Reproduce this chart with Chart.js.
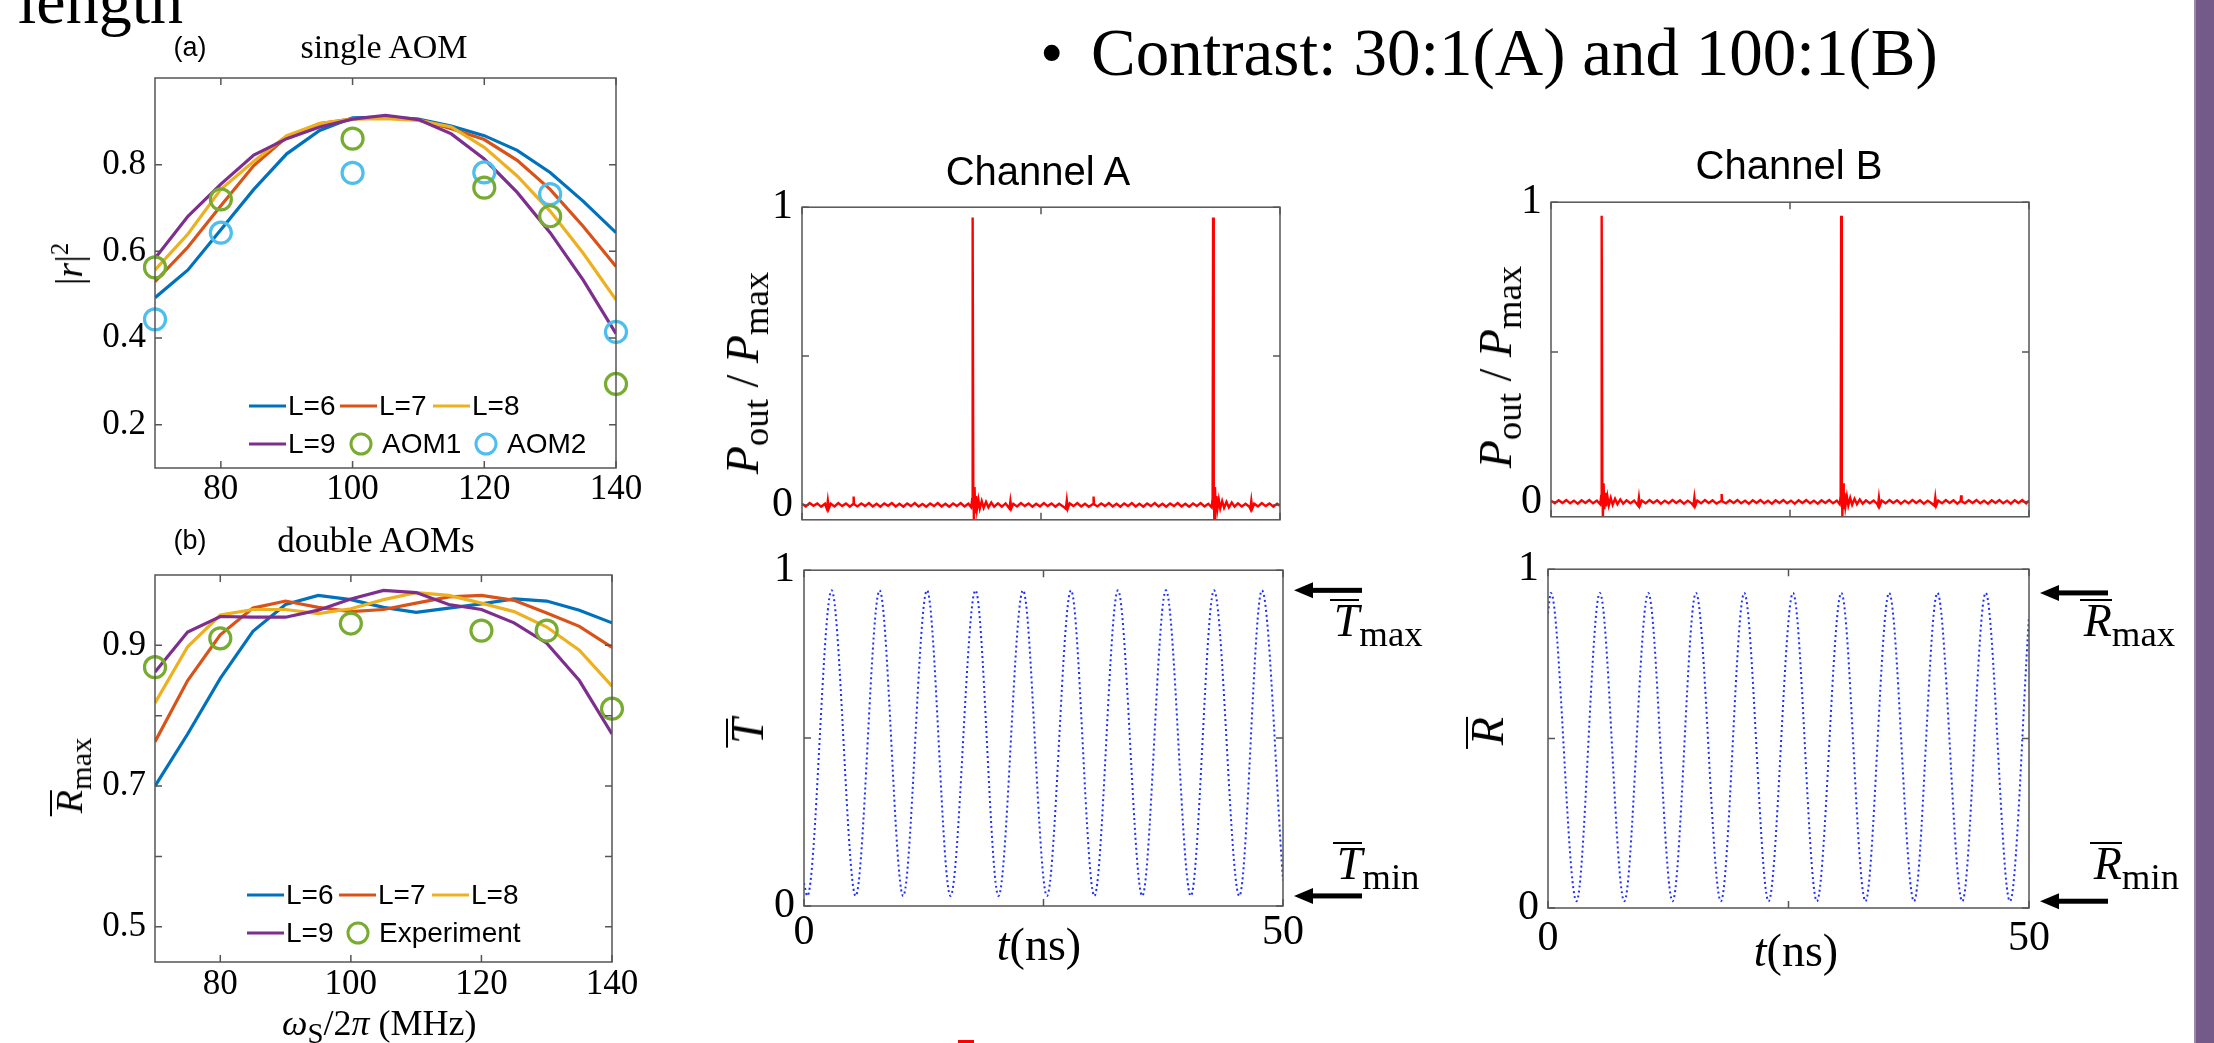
<!DOCTYPE html>
<html>
<head>
<meta charset="utf-8">
<script src="https://cdn.jsdelivr.net/npm/chart.js@4.4.1/dist/chart.umd.min.js"></script>
<style>
  body { margin: 0; background: #fff; }
  #page { position: relative; width: 2214px; height: 1043px; overflow: hidden; background: #fff;
          font-family: 'Liberation Serif', serif; color: #000; }
  canvas { position: absolute; }
  .t { position: absolute; white-space: nowrap; line-height: 1; }
  .c { transform: translate(-50%, -50%); }
  .r { transform: translate(-50%, -50%) rotate(-90deg); }
  .sans { font-family: 'Liberation Sans', Arial, sans-serif; }
  .ov { display: inline-block; line-height: 0.7; border-top: 2px solid #000; padding-top: 4px; padding-left: 0.08em; }
  sub { font-size: 0.8em; vertical-align: -0.28em; line-height: 0; }
  sup { font-size: 0.65em; vertical-align: 0.55em; line-height: 0; }
</style>
</head>
<body>
<div id="page">
  <canvas id="single"></canvas>
  <canvas id="double"></canvas>
  <canvas id="pulseAChart"></canvas>
  <canvas id="transAChart"></canvas>
  <canvas id="pulseBChart"></canvas>
  <canvas id="reflBChart"></canvas>

  <!-- slide text -->
  <div class="t" style="left:18px; top:-32px; font-size:66px">length</div>
  <div class="t" style="left:1040px; top:19px; font-size:67px">•</div>
  <div class="t" style="left:1091px; top:19px; font-size:67px">Contrast: 30:1(A) and 100:1(B)</div>

  <!-- left panels -->
  <div class="t c sans" style="left:190px; top:47px; font-size:27px">(a)</div>
  <div class="t c" style="left:384px; top:47px; font-size:34px">single AOM</div>
  <div class="t r" style="left:69px; top:264px; font-size:38px">|<i>r</i>|<sup>2</sup></div>
  <div class="t c sans" style="left:190px; top:540px; font-size:27px">(b)</div>
  <div class="t c" style="left:376px; top:540px; font-size:35px">double AOMs</div>
  <div class="t r" style="left:69px; top:777px; font-size:38px"><i class="ov">R</i><sub>max</sub></div>
  <div class="t" style="left:282px; top:1005px; font-size:36px"><i>ω</i><sub>S</sub>/2<i>π</i> (MHz)</div>

  <!-- channel panels -->
  <div class="t c sans" style="left:1038px; top:171px; font-size:40px">Channel A</div>
  <div class="t c sans" style="left:1789px; top:165px; font-size:40px">Channel B</div>
  <div class="t r" style="left:743px; top:373px; font-size:46px"><i>P</i><sub>out</sub> / <i>P</i><sub>max</sub></div>
  <div class="t r" style="left:1496px; top:367px; font-size:46px"><i>P</i><sub>out</sub> / <i>P</i><sub>max</sub></div>
  <div class="t r" style="left:748px; top:733px; font-size:46px"><i class="ov">T</i></div>
  <div class="t r" style="left:1488px; top:733px; font-size:46px"><i class="ov">R</i></div>
  <div class="t c" style="left:1039px; top:945px; font-size:46px"><i>t</i>(ns)</div>
  <div class="t c" style="left:1796px; top:951px; font-size:46px"><i>t</i>(ns)</div>
  <div class="t" style="left:1330px; top:598px; font-size:46px"><i class="ov">T</i><sub>max</sub></div>
  <div class="t" style="left:1333px; top:841px; font-size:46px"><i class="ov">T</i><sub>min</sub></div>
  <div class="t" style="left:2080px; top:598px; font-size:46px"><i class="ov">R</i><sub>max</sub></div>
  <div class="t" style="left:2090px; top:841px; font-size:46px"><i class="ov">R</i><sub>min</sub></div>

  <div style="position:absolute; left:958px; top:1040px; width:16px; height:3px; background:#f00"></div>
  <div style="position:absolute; left:2194px; top:0; width:20px; height:1043px; background:#735a88; box-sizing:border-box; border-left:2px solid #9b86ad"></div>
</div>

<script>
// ---- data ----
const freq = [70, 75, 80, 85, 90, 95, 100, 105, 110, 115, 120, 125, 130, 135, 140];
const single_L6 = [0.493, 0.557, 0.65, 0.743, 0.825, 0.879, 0.908, 0.91, 0.905, 0.889, 0.867, 0.833, 0.782, 0.716, 0.643];
const single_L7 = [0.53, 0.61, 0.705, 0.798, 0.864, 0.895, 0.906, 0.908, 0.904, 0.883, 0.858, 0.81, 0.743, 0.658, 0.565];
const single_L8 = [0.557, 0.64, 0.743, 0.808, 0.867, 0.895, 0.905, 0.906, 0.902, 0.887, 0.84, 0.774, 0.693, 0.596, 0.488];
const single_L9 = [0.584, 0.681, 0.755, 0.822, 0.86, 0.887, 0.905, 0.914, 0.904, 0.871, 0.813, 0.736, 0.643, 0.534, 0.41];
const expFreq = [70, 80, 100, 120, 130, 140];
const aom1 = [0.563, 0.72, 0.86, 0.747, 0.681, 0.294];
const aom2 = [0.443, 0.643, 0.781, 0.782, 0.732, 0.414];

const double_L6 = [0.7, 0.774, 0.853, 0.92, 0.958, 0.971, 0.965, 0.954, 0.947, 0.953, 0.959, 0.966, 0.963, 0.95, 0.932];
const double_L7 = [0.763, 0.85, 0.915, 0.953, 0.963, 0.954, 0.948, 0.951, 0.96, 0.969, 0.971, 0.964, 0.946, 0.927, 0.897];
const double_L8 = [0.818, 0.898, 0.943, 0.951, 0.951, 0.945, 0.952, 0.965, 0.975, 0.971, 0.96, 0.948, 0.926, 0.893, 0.842];
const double_L9 = [0.862, 0.919, 0.941, 0.94, 0.94, 0.95, 0.966, 0.978, 0.975, 0.958, 0.951, 0.932, 0.903, 0.85, 0.774];
const experiment = [0.869, 0.91, 0.931, 0.921, 0.921, 0.81];

const freqTicks = [80, 100, 120, 140];
const singleTicks = [0.2, 0.4, 0.6, 0.8];
const doubleTicks = [0.5, 0.6, 0.7, 0.8, 0.9];
const doubleLabels = [0.5, 0.7, 0.9];
const timeTicks = [0, 25, 50];
const timeLabels = [0, 50];
const levelTicks = [0, 0.5, 1];
const levelLabels = [0, 1];

// [t (ns), P_out/P_max]
const pulseA = [[0,0.004],[0.4,-0.005],[0.8,0.006],[1.2,-0.003],[1.6,0.005],[2.0,-0.006],[2.4,0.004],[2.6,-0.013],[2.7,0.014],[2.8,-0.012],[3.0,0.004],[3.4,-0.005],[3.8,0.006],[4.2,-0.004],[4.6,0.005],[5.0,-0.006],[5.35,0.003],[5.4,0.028],[5.45,0.002],[5.8,-0.005],[6.2,0.005],[6.6,-0.004],[7.0,0.006],[7.4,-0.005],[7.8,0.004],[8.2,-0.006],[8.6,0.005],[9.0,-0.003],[9.4,0.006],[9.8,-0.005],[10.2,0.004],[10.6,-0.006],[11.0,0.005],[11.4,-0.004],[11.8,0.006],[12.2,-0.005],[12.6,0.003],[13.0,-0.006],[13.4,0.005],[13.8,-0.004],[14.2,0.006],[14.6,-0.005],[15.0,0.004],[15.4,-0.006],[15.8,0.005],[16.2,-0.004],[16.6,0.006],[17.0,-0.005],[17.4,0.004],[17.7,-0.008],[17.8,0.02],[17.85,0.965],[17.92,0.05],[17.98,-0.048],[18.05,0.06],[18.12,-0.025],[18.2,0.03],[18.3,-0.015],[18.45,0.018],[18.6,-0.012],[18.8,0.013],[19.0,-0.01],[19.25,0.01],[19.5,-0.008],[19.8,0.008],[20.1,-0.006],[20.5,0.005],[20.9,-0.006],[21.3,0.005],[21.7,-0.012],[21.8,0.013],[21.9,-0.011],[22.1,0.004],[22.5,-0.005],[22.9,0.006],[23.3,-0.004],[23.7,0.005],[24.1,-0.006],[24.5,0.004],[24.9,-0.005],[25.3,0.006],[25.7,-0.004],[26.1,0.005],[26.5,-0.006],[26.9,0.004],[27.3,-0.005],[27.6,-0.013],[27.7,0.015],[27.8,-0.012],[28.0,0.005],[28.4,-0.004],[28.8,0.006],[29.2,-0.005],[29.6,0.004],[30.0,-0.006],[30.45,0.003],[30.5,0.028],[30.55,0.002],[30.9,-0.005],[31.3,0.005],[31.7,-0.004],[32.1,0.006],[32.5,-0.005],[32.9,0.004],[33.3,-0.006],[33.7,0.005],[34.1,-0.004],[34.5,0.006],[34.9,-0.005],[35.3,0.004],[35.7,-0.006],[36.1,0.005],[36.5,-0.004],[36.9,0.006],[37.3,-0.005],[37.7,0.004],[38.1,-0.006],[38.5,0.005],[38.9,-0.004],[39.3,0.006],[39.7,-0.005],[40.1,0.004],[40.5,-0.006],[40.9,0.005],[41.3,-0.004],[41.7,0.006],[42.1,-0.005],[42.5,0.004],[42.85,-0.008],[42.95,0.02],[43.0,0.965],[43.07,0.05],[43.13,-0.05],[43.2,0.06],[43.27,-0.025],[43.35,0.03],[43.45,-0.015],[43.6,0.018],[43.75,-0.012],[43.95,0.013],[44.15,-0.01],[44.4,0.01],[44.65,-0.008],[44.95,0.008],[45.25,-0.006],[45.6,0.005],[46.0,-0.005],[46.4,0.004],[46.8,-0.006],[46.9,-0.013],[47.0,0.014],[47.1,-0.012],[47.3,0.004],[47.7,-0.005],[48.1,0.006],[48.5,-0.004],[48.9,0.005],[49.3,-0.006],[49.7,0.004],[50,-0.003]];

const pulseB = [[0,0.004],[0.4,-0.005],[0.8,0.005],[1.2,-0.004],[1.6,0.006],[2.0,-0.005],[2.4,0.004],[2.8,-0.006],[3.2,0.005],[3.6,-0.004],[4.0,0.006],[4.4,-0.005],[4.8,0.004],[5.15,-0.008],[5.25,0.02],[5.3,0.955],[5.37,0.05],[5.43,-0.052],[5.5,0.062],[5.57,-0.025],[5.65,0.03],[5.75,-0.015],[5.9,0.018],[6.05,-0.012],[6.25,0.013],[6.45,-0.01],[6.7,0.01],[6.95,-0.008],[7.25,0.008],[7.55,-0.006],[7.9,0.005],[8.3,-0.005],[8.7,0.004],[9.1,-0.012],[9.2,0.014],[9.3,-0.012],[9.5,0.004],[9.9,-0.005],[10.3,0.006],[10.7,-0.004],[11.1,0.005],[11.5,-0.006],[11.9,0.004],[12.3,-0.005],[12.7,0.006],[13.1,-0.004],[13.5,0.005],[13.9,-0.006],[14.3,0.004],[14.7,-0.005],[14.9,-0.013],[15.0,0.014],[15.1,-0.012],[15.3,0.004],[15.7,-0.005],[16.1,0.006],[16.5,-0.004],[16.9,0.005],[17.3,-0.006],[17.8,0.003],[17.85,0.026],[17.9,0.002],[18.3,-0.005],[18.7,0.005],[19.1,-0.004],[19.5,0.006],[19.9,-0.005],[20.3,0.004],[20.7,-0.006],[21.1,0.005],[21.5,-0.004],[21.9,0.006],[22.3,-0.005],[22.7,0.004],[23.1,-0.006],[23.5,0.005],[23.9,-0.004],[24.3,0.006],[24.7,-0.005],[25.1,0.004],[25.5,-0.006],[25.9,0.005],[26.3,-0.004],[26.7,0.006],[27.1,-0.005],[27.5,0.004],[27.9,-0.006],[28.3,0.005],[28.7,-0.004],[29.1,0.006],[29.5,-0.005],[29.9,0.004],[30.2,-0.008],[30.3,0.02],[30.35,0.955],[30.42,0.05],[30.48,-0.052],[30.55,0.062],[30.62,-0.025],[30.7,0.03],[30.8,-0.015],[30.95,0.018],[31.1,-0.012],[31.3,0.013],[31.5,-0.01],[31.75,0.01],[32.0,-0.008],[32.3,0.008],[32.6,-0.006],[32.95,0.005],[33.35,-0.005],[33.75,0.004],[34.1,-0.006],[34.2,-0.013],[34.3,0.014],[34.4,-0.012],[34.6,0.004],[35.0,-0.005],[35.4,0.006],[35.8,-0.004],[36.2,0.005],[36.6,-0.006],[37.0,0.004],[37.4,-0.005],[37.8,0.006],[38.2,-0.004],[38.6,0.005],[39.0,-0.006],[39.4,0.004],[39.8,-0.005],[40.1,-0.013],[40.2,0.014],[40.3,-0.012],[40.5,0.004],[40.9,-0.005],[41.3,0.006],[41.7,-0.004],[42.1,0.005],[42.5,-0.006],[42.85,0.003],[42.9,0.022],[42.95,0.002],[43.3,-0.005],[43.7,0.005],[44.1,-0.004],[44.5,0.006],[44.9,-0.005],[45.3,0.004],[45.7,-0.006],[46.1,0.005],[46.5,-0.004],[46.9,0.006],[47.3,-0.005],[47.7,0.004],[48.1,-0.006],[48.5,0.005],[48.9,-0.004],[49.3,0.006],[49.7,-0.005],[50,0.004]];

// turning points of the interference traces [t (ns), value]
const transA = [[0,0.068],[0.35,0.03],[2.88,0.94],[5.39,0.03],[7.89,0.94],[10.35,0.03],[12.84,0.94],[15.29,0.03],[17.9,0.94],[20.3,0.03],[22.86,0.94],[25.36,0.03],[27.87,0.94],[30.31,0.03],[32.77,0.94],[35.31,0.03],[37.78,0.94],[40.38,0.03],[42.8,0.94],[45.44,0.03],[47.8,0.94],[50,0.076]];
const reflB = [[0,0.87],[0.3,0.93],[2.96,0.02],[5.39,0.93],[7.93,0.02],[10.42,0.93],[12.95,0.02],[15.38,0.93],[17.97,0.02],[20.4,0.93],[22.93,0.02],[25.47,0.93],[27.95,0.02],[30.49,0.93],[33.0,0.02],[35.46,0.93],[38.05,0.02],[40.48,0.93],[43.07,0.02],[45.5,0.93],[48.02,0.02],[50,0.86]];
const transLevels = [0.94, 0.03];  // T max / T min
const reflLevels = [0.93, 0.02];   // R max / R min

// ---- plugins ----
// matlab style box with inward ticks
const frame = {
  id: 'frame',
  afterDatasetsDraw(chart) {
    const { ctx, chartArea: a, scales: { x, y } } = chart;
    const len = 7;
    ctx.save();
    ctx.strokeStyle = '#555';
    ctx.lineWidth = 1.5;
    ctx.strokeRect(a.left, a.top, a.width, a.height);
    ctx.beginPath();
    x.ticks.forEach(t => {
      const px = x.getPixelForValue(t.value);
      ctx.moveTo(px, a.bottom); ctx.lineTo(px, a.bottom - len);
      ctx.moveTo(px, a.top); ctx.lineTo(px, a.top + len);
    });
    y.ticks.forEach(t => {
      const py = y.getPixelForValue(t.value);
      ctx.moveTo(a.left, py); ctx.lineTo(a.left + len, py);
      ctx.moveTo(a.right, py); ctx.lineTo(a.right - len, py);
    });
    ctx.stroke();
    ctx.restore();
  }
};

// legend drawn inside the plot box
const boxLegend = {
  id: 'boxLegend',
  afterDraw(chart, args, opts) {
    if (!opts.items) return;
    const { ctx, chartArea: a } = chart;
    ctx.save();
    ctx.font = '28px "Liberation Sans"';
    ctx.textBaseline = 'middle';
    opts.items.forEach(it => {
      const ds = chart.data.datasets[it.ds];
      const x = a.left + it.x, y = a.bottom + opts.rows[it.row];
      ctx.strokeStyle = ds.borderColor;
      ctx.lineWidth = 3;
      ctx.beginPath();
      let tx;
      if (ds.showLine === false) {
        ctx.arc(x, y, 10, 0, 2 * Math.PI);
        tx = x + 21;
      } else {
        ctx.moveTo(x, y); ctx.lineTo(x + 37, y);
        tx = x + 39;
      }
      ctx.stroke();
      ctx.fillStyle = '#000';
      ctx.fillText(ds.label, tx, y + 1);
    });
    ctx.restore();
  }
};

// arrows that mark the max / min level at the right of the box
const levelArrows = {
  id: 'levelArrows',
  afterDraw(chart, args, opts) {
    if (!opts.levels) return;
    const { ctx, chartArea: a, scales: { y } } = chart;
    ctx.save();
    ctx.fillStyle = '#000';
    opts.levels.forEach(v => {
      const py = y.getPixelForValue(v);
      const x0 = a.right + 11, x1 = a.right + 79;
      ctx.fillRect(x0 + 14, py - 2.5, x1 - x0 - 14, 5);
      ctx.beginPath();
      ctx.moveTo(x0, py);
      ctx.lineTo(x0 + 19, py - 8);
      ctx.lineTo(x0 + 19, py + 8);
      ctx.closePath();
      ctx.fill();
    });
    ctx.restore();
  }
};

Chart.register(frame, boxLegend, levelArrows);

// ---- helpers ----
const pts = (xs, ys) => xs.map((v, i) => ({ x: v, y: ys[i] }));
const pairs = arr => arr.map(([x, y]) => ({ x, y }));

function curve(label, ys, color, order) {
  return { label, data: pts(freq, ys), borderColor: color, borderWidth: 3.2,
           pointRadius: 0, fill: false, tension: 0, order };
}
function rings(label, ys, color) {
  return { label, data: pts(expFreq, ys), showLine: false, borderColor: color,
           backgroundColor: 'rgba(0,0,0,0)', pointRadius: 10.5, pointBorderWidth: 3.2,
           pointBorderColor: color, pointBackgroundColor: 'rgba(0,0,0,0)', clip: false, order: 0 };
}

function axis(min, max, tickVals, labelVals, size, pad) {
  return {
    type: 'linear', min, max,
    grid: { display: false, drawTicks: false },
    border: { display: false },
    afterBuildTicks: s => { s.ticks = tickVals.map(v => ({ value: v })); },
    ticks: {
      color: '#000', padding: pad,
      font: { family: 'Liberation Serif', size },
      callback: v => (labelVals.includes(v) ? String(v) : '')
    }
  };
}

function makeChart(id, plot, m, cfg) {
  const cv = document.getElementById(id);
  const w = plot.r - plot.l + m.l + m.r, h = plot.b - plot.t + m.t + m.b;
  cv.width = w; cv.height = h;
  cv.style.left = (plot.l - m.l) + 'px';
  cv.style.top = (plot.t - m.t) + 'px';
  cv.style.width = w + 'px';
  cv.style.height = h + 'px';
  cfg.options.responsive = false;
  cfg.options.animation = false;
  cfg.options.events = [];
  cfg.options.layout = { padding: { top: m.t, right: m.r, left: 0, bottom: 0 } };
  cfg.options.scales.x.afterFit = s => { s.height = m.b; };
  cfg.options.scales.y.afterFit = s => { s.width = m.l; };
  cfg.options.plugins = Object.assign({ legend: { display: false }, tooltip: { enabled: false } }, cfg.options.plugins);
  return new Chart(cv, cfg);
}

const mColors = { blue: '#0072BD', orange: '#D95319', yellow: '#EDB120', purple: '#7E2F8E', green: '#77AC30', cyan: '#4DBEEE' };

// (a) single AOM
makeChart('single', { l: 155, t: 78, r: 616, b: 468 }, { l: 80, r: 40, t: 30, b: 50 }, {
  type: 'line',
  data: { datasets: [
    curve('L=6', single_L6, mColors.blue, 4),
    curve('L=7', single_L7, mColors.orange, 3),
    curve('L=8', single_L8, mColors.yellow, 2),
    curve('L=9', single_L9, mColors.purple, 1),
    rings('AOM1', aom1, mColors.green),
    rings('AOM2', aom2, mColors.cyan)
  ] },
  options: {
    scales: {
      x: axis(70, 140, freqTicks, freqTicks, 35, 1),
      y: axis(0.1, 1.0, singleTicks, singleTicks, 35, 9)
    },
    plugins: { boxLegend: { rows: [-62, -24], items: [
      { ds: 0, x: 94, row: 0 }, { ds: 1, x: 185, row: 0 }, { ds: 2, x: 278, row: 0 },
      { ds: 3, x: 94, row: 1 }, { ds: 4, x: 206, row: 1 }, { ds: 5, x: 331, row: 1 }
    ] } }
  }
});

// (b) double AOMs
makeChart('double', { l: 155, t: 575, r: 612, b: 962 }, { l: 80, r: 40, t: 30, b: 70 }, {
  type: 'line',
  data: { datasets: [
    curve('L=6', double_L6, mColors.blue, 4),
    curve('L=7', double_L7, mColors.orange, 3),
    curve('L=8', double_L8, mColors.yellow, 2),
    curve('L=9', double_L9, mColors.purple, 1),
    rings('Experiment', experiment, mColors.green)
  ] },
  options: {
    scales: {
      x: axis(70, 140, freqTicks, freqTicks, 35, 2),
      y: axis(0.45, 1.0, doubleTicks, doubleLabels, 35, 9)
    },
    plugins: { boxLegend: { rows: [-67, -29], items: [
      { ds: 0, x: 92, row: 0 }, { ds: 1, x: 184, row: 0 }, { ds: 2, x: 277, row: 0 },
      { ds: 3, x: 92, row: 1 }, { ds: 4, x: 203, row: 1 }
    ] } }
  }
});

function pulseChart(id, plot, data) {
  makeChart(id, plot, { l: 80, r: 40, t: 30, b: 10 }, {
    type: 'line',
    data: { datasets: [{ data: pairs(data), borderColor: '#ff0000', borderWidth: 2.4, pointRadius: 0, tension: 0 }] },
    options: {
      scales: {
        x: axis(0, 50, timeTicks, [], 42, 2),
        y: axis(-0.05, 1, levelTicks, levelLabels, 42, 9)
      }
    }
  });
}

function fringeChart(id, plot, data, levels, pad) {
  makeChart(id, plot, { l: 80, r: 100, t: 30, b: 60 }, {
    type: 'line',
    data: { datasets: [{ data: pairs(data), borderColor: '#1f2fff', borderWidth: 2, borderDash: [2, 3],
                         pointRadius: 0, cubicInterpolationMode: 'monotone' }] },
    options: {
      scales: {
        x: axis(0, 50, timeTicks, timeLabels, 42, pad),
        y: axis(0, 1, levelTicks, levelLabels, 42, 9)
      },
      plugins: { levelArrows: { levels } }
    }
  });
}

pulseChart('pulseAChart', { l: 802, t: 203, r: 1280, b: 544 }, pulseA);
fringeChart('transAChart', { l: 804, t: 566, r: 1283, b: 906 }, transA, transLevels, 2);
pulseChart('pulseBChart', { l: 1551, t: 198, r: 2029, b: 541 }, pulseB);
fringeChart('reflBChart', { l: 1548, t: 565, r: 2029, b: 908 }, reflB, reflLevels, 6);
</script>
</body>
</html>
